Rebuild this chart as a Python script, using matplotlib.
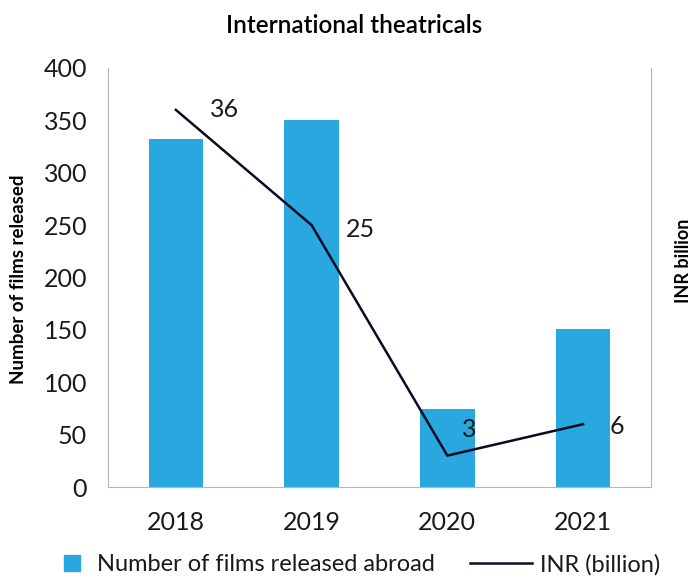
import matplotlib.pyplot as plt
from matplotlib.lines import Line2D
import numpy as np

plt.rcParams['font.family'] = ['Lato', 'DejaVu Sans']

years = ['2018', '2019', '2020', '2021']
films_abroad = [332, 350, 74, 151]
inr_billion = [36, 25, 3, 6]

# label offsets (pixels) for the INR values
label_offsets = [(34, 0), (34, -4), (15, 26), (27, -2)]

bar_color = '#29A8E0'
line_color = '#0B0B26'
spine_color = '#B4B4C8'
text_color = '#1a1a1a'

fig = plt.figure(figsize=(6.94, 5.78), dpi=100)
ax = fig.add_axes([0.1556, 0.1574, 0.7824, 0.725])
x = np.arange(len(years))

ax.bar(x, films_abroad, width=0.4, color=bar_color)
ax.set_xlim(-0.5, 3.5)
ax.set_ylim(0, 400)
ax.set_yticks(range(0, 401, 50))
ax.set_xticks(x)
ax.set_xticklabels(years)
ax.tick_params(length=0, labelsize=18, colors=text_color)
ax.tick_params(axis='y', pad=15)
ax.tick_params(axis='x', pad=17.5)
ax.set_ylabel('Number of films released', fontsize=13.5, fontweight='bold')
ax.yaxis.set_label_coords(-0.149, 0.495)
for side in ['top', 'right']:
    ax.spines[side].set_visible(False)
for side in ['left', 'bottom']:
    ax.spines[side].set_color(spine_color)

ax2 = ax.twinx()
ax2.plot(x, inr_billion, color=line_color, lw=1.8)
ax2.set_ylim(0, 40)
ax2.set_yticks([])
ax2.set_ylabel('INR billion', fontsize=13, fontweight='bold', rotation=90)
ax2.yaxis.set_label_coords(1.044, 0.539)
for side in ['top', 'left', 'bottom']:
    ax2.spines[side].set_visible(False)
ax2.spines['right'].set_color(spine_color)

for xi, v, (dx, dy) in zip(x, inr_billion, label_offsets):
    ax2.annotate(str(v), (xi, v), xytext=(dx * 0.72, dy * 0.72), textcoords='offset points',
                 ha='left', va='center', fontsize=18, color=text_color)

fig.suptitle('International theatricals', x=0.51, y=0.976, fontsize=17.5, fontweight='semibold')

# two legends so each handle gets its own length
bar_handle = Line2D([], [], ls='none', marker='s', markersize=11, color=bar_color)
line_handle = Line2D([], [], color=line_color, lw=1.8)
leg1 = fig.legend([bar_handle], ['Number of films released abroad'],
                  loc='center left', bbox_to_anchor=(0.0865, 0.0225), frameon=False,
                  fontsize=17, handlelength=1.0, handletextpad=0.55,
                  borderpad=0, borderaxespad=0, labelcolor=text_color)
leg2 = fig.legend([line_handle], ['INR (billion)'],
                  loc='center left', bbox_to_anchor=(0.677, 0.0225), frameon=False,
                  fontsize=17, handlelength=2.62, handletextpad=0.34,
                  borderpad=0, borderaxespad=0, labelcolor=text_color)

fig.savefig('out.png', dpi=100)
